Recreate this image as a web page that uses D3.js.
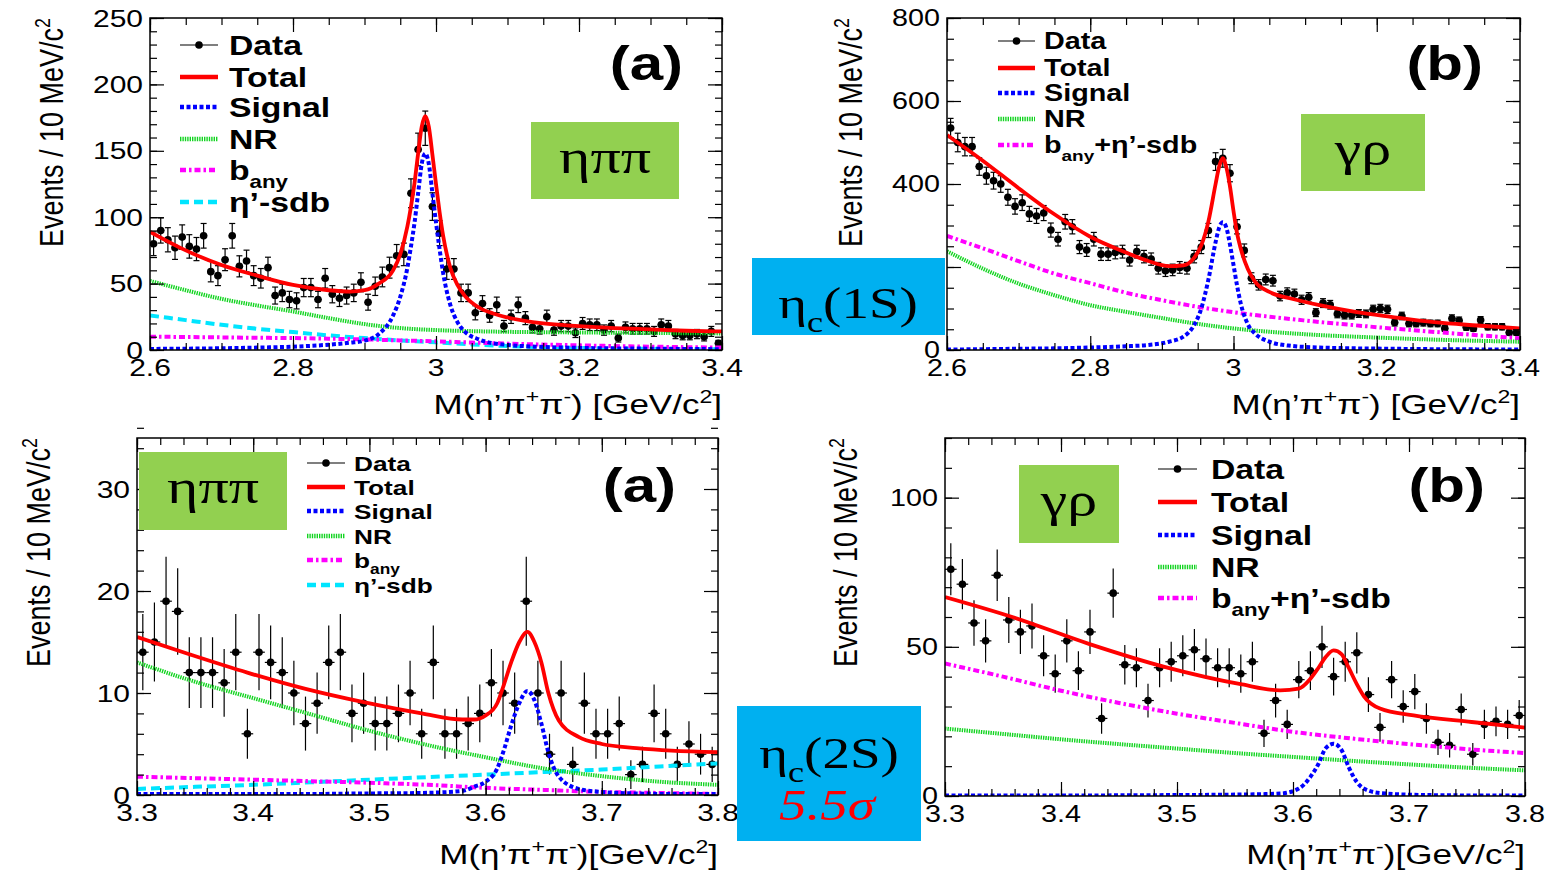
<!DOCTYPE html>
<html>
<head>
<meta charset="utf-8">
<script src="https://cdn.jsdelivr.net/npm/d3@7"></script>
<style>
  body { margin: 0; background: #fff; }
  svg { display: block; }
</style>
</head>
<body>
<svg id="fig" width="1549" height="872"></svg>
<script>
// ---------------- data ----------------

// (top-left) eta_c(1S), eta pi pi : counts per 10 MeV bin, 2.6 - 3.4
const tlCounts = [80, 90, 83, 77, 85, 78, 76, 86, 59, 56,
                  68, 86, 63, 67, 56, 54, 62, 41, 43, 38,
                  37, 47, 47, 38, 54, 42, 39, 41, 43, 51,
                  36, 48, 55, 62, 71, 72, 118, 151, 167, 108,
                  88, 61, 61, 43, 43, 28, 35, 26, 34, 18,
                  25, 34, 24, 17, 16, 25, 15, 18, 18, 13,
                  20, 19, 19, 15, 18, 9, 17, 16, 16, 16,
                  14, 19, 18, 12, 11, 11, 12, 10, 14, 5];
const tlFitX   = [2.60, 2.65, 2.70, 2.75, 2.80, 2.85, 2.88, 2.90, 2.92, 2.94, 2.95, 2.96, 2.965, 2.97, 2.975, 2.98, 2.985,
                  2.99, 2.995, 3.00, 3.005, 3.01, 3.02, 3.03, 3.04, 3.06, 3.08, 3.10, 3.15, 3.20, 3.25, 3.30, 3.35, 3.40];
const tlTotal  = [89, 75, 64, 56, 49, 45, 44, 45, 50, 60, 72, 93, 108, 126, 148, 168, 176,
                  168, 147, 125, 104, 86, 62, 49, 41, 32, 27.5, 24.5, 20, 18, 16.5, 15.5, 14.5, 14];
const tlSignal = [0.8, 1.0, 1.3, 1.8, 2.5, 4, 5.5, 7, 12, 26, 40, 62, 78, 96, 118, 140, 148,
                  140, 118, 96, 76, 58, 34, 21, 14, 8, 5, 3.8, 2.3, 1.6, 1.2, 1, 0.8, 0.6];
const tlBgX    = [2.60, 2.65, 2.70, 2.75, 2.80, 2.85, 2.90, 2.95, 3.00, 3.05, 3.10, 3.20, 3.30, 3.40];
const tlNR     = [52, 45, 38.5, 33.5, 29, 24, 19.5, 16.5, 15, 14.2, 13.7, 13.2, 12.8, 12.5];
const tlBany   = [10, 9.8, 9.5, 9.2, 9, 8.5, 8, 7.2, 6.5, 5.6, 4.8, 3.5, 2.5, 1.8];
const tlSdb    = [26, 22.5, 19, 16, 13.5, 11, 9, 7.2, 5.8, 4.2, 3, 1.6, 0.9, 0.5];
const tlXTicks = [2.6, 2.8, 3.0, 3.2, 3.4];
const tlYTicks = [0, 50, 100, 150, 200, 250];

// (top-right) eta_c(1S), gamma rho
const trCounts = [535, 500, 490, 490, 442, 420, 408, 400, 368, 346,
                  355, 328, 323, 330, 289, 267, 309, 297, 248, 241,
                  267, 231, 231, 235, 237, 217, 237, 225, 219, 197,
                  191, 193, 199, 197, 225, 248, 288, 454, 462, 426,
                  297, 240, 173, 157, 170, 167, 130, 138, 135, 121,
                  127, 90, 113, 109, 87, 84, 84, 88, 87, 98,
                  100, 98, 66, 82, 64, 64, 66, 64, 64, 52,
                  76, 71, 55, 52, 72, 56, 56, 56, 42, 42];
const trFitX   = [2.60, 2.65, 2.70, 2.75, 2.80, 2.85, 2.88, 2.91, 2.93, 2.945, 2.955, 2.965, 2.975, 2.98, 2.985,
                  2.99, 2.995, 3.00, 3.005, 3.01, 3.02, 3.03, 3.05, 3.08, 3.12, 3.17, 3.22, 3.28, 3.34, 3.40];
const trTotal  = [518, 456, 390, 327, 273, 235, 215, 202, 204, 222, 252, 310, 400, 442, 462,
                  440, 395, 335, 281, 245, 195, 165, 140, 124, 108, 92, 80, 67, 59, 52];
const trSignal = [1, 2, 3, 4, 6, 9, 12, 20, 32, 60, 100, 170, 260, 295, 308,
                  295, 255, 205, 155, 113, 62, 40, 20, 10, 6, 4, 3, 2, 1.5, 1];
const trBgX    = [2.60, 2.65, 2.70, 2.75, 2.80, 2.85, 2.90, 2.95, 3.00, 3.10, 3.20, 3.30, 3.40];
const trNR     = [238, 196, 160, 132, 108, 92, 77, 63, 52, 38, 30, 24, 20];
const trBanySdb = [275, 245, 214, 184, 161, 138, 120, 104, 91, 71, 55, 41, 28];
const trXTicks = [2.6, 2.8, 3.0, 3.2, 3.4];
const trYTicks = [0, 200, 400, 600, 800];

// (bottom-left) eta_c(2S), eta pi pi : 3.3 - 3.8
const blCounts = [14, 15, 19, 18, 12, 12, 12, 11, 14, 6,
                  14, 13, 12, 10, 7, 9, 13, 14, 8, 9,
                  7, 7, 8, 10, 6, 13, 6, 6, 7, 8,
                  11, 10, 9, 19, 10, 4, 10, 3, 9, 6,
                  6, 7, 2, 3, 8, 6, 3, 5, 4, 3];
const blFitX   = [3.30, 3.345, 3.395, 3.445, 3.495, 3.545, 3.58, 3.59, 3.60, 3.61, 3.616, 3.622,
                  3.629, 3.636, 3.642, 3.648, 3.654, 3.663, 3.68, 3.70, 3.73, 3.76, 3.80];
const blTotal  = [15.5, 13.8, 12, 10.4, 9.1, 8.0, 7.4, 7.4, 7.8, 9.0, 10.9, 13.0,
                  15.0, 16.0, 15.0, 13, 10, 7.3, 5.7, 5.0, 4.6, 4.35, 4.2];
const blSignal = [0.1, 0.1, 0.1, 0.1, 0.15, 0.2, 0.4, 0.8, 1.3, 2.6, 4.5, 6.8,
                  9.0, 10.2, 9.3, 7.0, 4.2, 1.8, 0.6, 0.3, 0.15, 0.1, 0.1];
const blBgX    = [3.30, 3.35, 3.40, 3.45, 3.50, 3.55, 3.60, 3.65, 3.70, 3.75, 3.80];
const blNR     = [13.0, 11.1, 9.5, 7.9, 6.3, 4.9, 3.7, 2.6, 1.85, 1.3, 1.0];
const blBany   = [1.8, 1.65, 1.5, 1.35, 1.2, 1.0, 0.7, 0.5, 0.3, 0.2, 0.1];
const blSdb    = [0.6, 0.8, 1.0, 1.25, 1.5, 1.75, 2.0, 2.25, 2.5, 2.8, 3.1];
const blXTicks = [3.3, 3.4, 3.5, 3.6, 3.7, 3.8];
const blYTicks = [0, 10, 20, 30];

// (bottom-right) eta_c(2S), gamma rho
const brCounts = [76, 71, 58, 52, 74, 59, 55, 57, 47, 41,
                  52, 42, 55, 26, 68, 44, 43, 32, 43, 45,
                  47, 49, 46, 43, 43, 41, 45, 21, 32, 24,
                  39, 42, 50, 40, 45, 48, 34, 23, 39, 30,
                  35, 26, 18, 17, 29, 14, 24, 25, 24, 27];
const brFitX   = [3.30, 3.358, 3.424, 3.49, 3.556, 3.589, 3.605, 3.615, 3.622, 3.628,
                  3.635, 3.642, 3.648, 3.655, 3.661, 3.675, 3.704, 3.754, 3.80];
const brTotal  = [66.7, 60, 51, 43.2, 37.4, 35.4, 36, 39.3, 43, 46.5,
                  48.8, 47.5, 43, 37.5, 33.5, 29.3, 27, 24.8, 22.9];
const brSignal = [0.2, 0.2, 0.2, 0.3, 0.5, 0.8, 2.5, 6.4, 10.8, 15.9,
                  17.5, 15.3, 9.7, 4.7, 2.5, 1.0, 0.4, 0.2, 0.2];
const brBgX    = [3.30, 3.35, 3.40, 3.45, 3.50, 3.55, 3.60, 3.65, 3.70, 3.75, 3.80];
const brNR     = [22.6, 20.8, 19.0, 17.4, 15.9, 14.4, 13.1, 11.8, 10.6, 9.5, 8.6];
const brBanySdb = [44.4, 40.0, 35.3, 31.2, 27.6, 24.5, 21.5, 19.3, 17.4, 15.7, 14.4];
const brXTicks = [3.3, 3.4, 3.5, 3.6, 3.7, 3.8];
const brYTicks = [0, 50, 100];

// ---------------- drawing ----------------

const SANS = "'Liberation Sans', Arial, Helvetica, sans-serif";
const SERIF = "'Liberation Serif', 'Times New Roman', serif";
const SX = 1.25;   // the whole slide is stretched sideways

const styles = {
  total:  { stroke: "#ff0000", dash: null, width: 3.8 },
  signal: { stroke: "#0000ff", dash: "4,2.5", width: 4 },
  nr:     { stroke: "#12d420", dash: "1.4,1", width: 4 },
  bany:   { stroke: "#ff00ff", dash: "6,3,2.5,3", width: 4 },
  sdb:    { stroke: "#00e5ff", dash: "9,5", width: 4 }
};

const svg = d3.select("#fig");

// text made of pieces, some sub/superscript
function rich(sel, parts, size) {
  let shift = 0;
  parts.forEach(p => {
    const target = p.sub ? 0.32 * size : p.sup ? -0.4 * size : 0;
    const ts = sel.append("tspan").attr("dy", target - shift).text(p.t);
    if (p.sub || p.sup) ts.attr("font-size", 0.66 * size);
    shift = target;
  });
  return sel;
}

function label(sel, x, y, parts, o) {
  const t = sel.append("text")
    .attr("transform", o.rotate
      ? `translate(${x},${y}) rotate(-90) scale(1,${SX})`
      : `translate(${x},${y}) scale(${SX},1)`)
    .attr("text-anchor", o.anchor || "start")
    .attr("font-family", o.family || SANS)
    .attr("font-size", o.size)
    .attr("font-weight", o.weight || "normal")
    .attr("font-style", o.italic ? "italic" : "normal")
    .attr("fill", o.fill || "#000");
  if (typeof parts === "string") t.text(parts);
  else rich(t, parts, o.size);
  return t;
}

const xTitle = [{ t: "M(η’π" }, { t: "+", sup: true }, { t: "π" }, { t: "-", sup: true }, { t: ")\u00a0[GeV/c" }, { t: "2", sup: true }, { t: "]" }];
const xTitleTight = [{ t: "M(η’π" }, { t: "+", sup: true }, { t: "π" }, { t: "-", sup: true }, { t: ")[GeV/c" }, { t: "2", sup: true }, { t: "]" }];
const yTitle = [{ t: "Events / 10 MeV/c" }, { t: "2", sup: true }];

function drawPanel(p) {
  const x = d3.scaleLinear().domain(p.xDomain).range([p.left, p.right]);
  const y = d3.scaleLinear().domain(p.yDomain).range([p.bottom, p.top]);
  const g = svg.append("g");

  g.append("clipPath").attr("id", "clip-" + p.id).append("rect")
    .attr("x", p.left).attr("y", p.top)
    .attr("width", p.right - p.left).attr("height", p.bottom - p.top);
  const plot = g.append("g").attr("clip-path", `url(#clip-${p.id})`);

  // data points with errors
  const pts = p.counts.map((c, i) => ({ x: p.xDomain[0] + p.bin * (i + 0.5), y: c, e: Math.sqrt(c) }));
  const dg = plot.append("g").attr("stroke", "#000").attr("stroke-width", 1.2);
  dg.selectAll(".ev").data(pts).join("line")
    .attr("x1", d => x(d.x)).attr("x2", d => x(d.x))
    .attr("y1", d => y(d.y - d.e)).attr("y2", d => y(d.y + d.e));
  dg.selectAll(".eh").data(pts).join("line")
    .attr("x1", d => x(d.x - p.bin / 2)).attr("x2", d => x(d.x + p.bin / 2))
    .attr("y1", d => y(d.y)).attr("y2", d => y(d.y));
  if (p.caps) {
    pts.forEach(d => {
      [d.y - d.e, d.y + d.e].forEach(v => {
        dg.append("line").attr("x1", x(d.x) - 3).attr("x2", x(d.x) + 3)
          .attr("y1", y(v)).attr("y2", y(v));
      });
    });
  }
  plot.append("g").selectAll("circle").data(pts).join("circle")
    .attr("cx", d => x(d.x)).attr("cy", d => y(d.y)).attr("r", 3.8).attr("fill", "#000");

  // fit curves
  const line = d3.line().x(d => x(d[0])).y(d => y(d[1])).curve(d3.curveMonotoneX);
  p.curves.forEach(c => {
    const s = styles[c.key];
    plot.append("path")
      .datum(c.xs.map((v, i) => [v, c.ys[i]]))
      .attr("d", line)
      .attr("fill", "none")
      .attr("stroke", s.stroke)
      .attr("stroke-width", s.width)
      .attr("stroke-dasharray", s.dash);
  });

  // frame with inward ticks on all four sides
  const minorX = d3.range(0, Math.round((p.xDomain[1] - p.xDomain[0]) / p.xMinor) + 1).map(i => p.xDomain[0] + i * p.xMinor);
  const minorY = d3.range(0, Math.round((p.yDomain[1] - p.yDomain[0]) / p.yMinor) + 1).map(i => p.yDomain[0] + i * p.yMinor);
  const axes = [
    [d3.axisBottom(x), p.bottom, "x", p.xTicks, minorX],
    [d3.axisTop(x), p.top, "x", p.xTicks, minorX],
    [d3.axisLeft(y), p.left, "y", p.yTicks, minorY],
    [d3.axisRight(y), p.right, "y", p.yTicks, minorY]
  ];
  axes.forEach(([ax, pos, dir, major, minor]) => {
    [[minor, 7], [major, 14]].forEach(([vals, len]) => {
      const a = g.append("g")
        .attr("transform", dir === "x" ? `translate(0,${pos})` : `translate(${pos},0)`)
        .call(ax.tickValues(vals).tickSize(-len).tickSizeOuter(0).tickFormat(""));
      a.select(".domain").remove();
      a.selectAll("line").attr("stroke", "#000").attr("stroke-width", 1.2);
    });
  });
  g.append("rect")
    .attr("x", p.left).attr("y", p.top)
    .attr("width", p.right - p.left).attr("height", p.bottom - p.top)
    .attr("fill", "none").attr("stroke", "#000").attr("stroke-width", 1.5);

  // tick labels
  p.xTicks.forEach(v => label(g, x(v), p.bottom + 26, String(v), { size: p.tickSize, anchor: "middle" }));
  p.yTicks.forEach(v => label(g, p.left - 7, y(v) + 0.36 * p.tickSize, String(v), { size: p.tickSize, anchor: "end" }));

  // axis titles
  label(g, p.right, p.xTitleY, p.xTitle, { size: 28, anchor: "end" });
  label(g, p.yTitleX, p.top, yTitle, { size: 27, anchor: "end", rotate: true });

  // panel letter
  label(g, p.letterX, p.letterY, p.letter, { size: 48, weight: "bold", anchor: "end" });

  // channel box
  g.append("rect").attr("x", p.box[0]).attr("y", p.box[1])
    .attr("width", p.box[2]).attr("height", p.box[3]).attr("fill", "#92d050");
  label(g, p.box[0] + p.box[2] / 2, p.box[1] + p.box[3] * 0.66, p.channel,
    { size: 48, family: SERIF, anchor: "middle" });

  // legend
  const L = p.legend;
  L.rows.forEach(r => {
    const yy = r.y;
    if (r.key === "data") {
      g.append("line").attr("x1", L.x0).attr("x2", L.x1).attr("y1", yy).attr("y2", yy)
        .attr("stroke", "#000").attr("stroke-width", 1.2);
      g.append("circle").attr("cx", (L.x0 + L.x1) / 2).attr("cy", yy).attr("r", 3.8).attr("fill", "#000");
    } else {
      const s = styles[r.key];
      g.append("line").attr("x1", L.x0).attr("x2", L.x1).attr("y1", yy).attr("y2", yy)
        .attr("stroke", s.stroke).attr("stroke-width", 4.5)
        .attr("stroke-dasharray", s.dash);
    }
    label(g, L.tx, yy + 0.36 * L.size, r.parts, { size: L.size, weight: "bold" });
  });
}

const legendFull = () => [
  { key: "data", parts: "Data" },
  { key: "total", parts: "Total" },
  { key: "signal", parts: "Signal" },
  { key: "nr", parts: "NR" },
  { key: "bany", parts: [{ t: "b" }, { t: "any", sub: true }] },
  { key: "sdb", parts: "η’-sdb" }
];
const legendShort = () => [
  { key: "data", parts: "Data" },
  { key: "total", parts: "Total" },
  { key: "signal", parts: "Signal" },
  { key: "nr", parts: "NR" },
  { key: "bany", parts: [{ t: "b" }, { t: "any", sub: true }, { t: "+η’-sdb" }] }
];
const withY = (rows, ys) => rows.map((r, i) => Object.assign({}, r, { y: ys[i] }));

drawPanel({
  id: "tl", left: 150, right: 722, top: 18, bottom: 350,
  xDomain: [2.6, 3.4], yDomain: [0, 250], bin: 0.01, caps: true,
  xTicks: tlXTicks, yTicks: tlYTicks, xMinor: 0.05, yMinor: 10, tickSize: 24,
  counts: tlCounts,
  curves: [
    { key: "sdb", xs: tlBgX, ys: tlSdb },
    { key: "bany", xs: tlBgX, ys: tlBany },
    { key: "nr", xs: tlBgX, ys: tlNR },
    { key: "signal", xs: tlFitX, ys: tlSignal },
    { key: "total", xs: tlFitX, ys: tlTotal }
  ],
  xTitle: xTitle, xTitleY: 414, yTitleX: 63,
  letter: "(a)", letterX: 683, letterY: 80,
  box: [531, 122, 148, 77], channel: "ηππ",
  legend: { x0: 180, x1: 218, tx: 229, size: 27, rows: withY(legendFull(), [45, 77, 107, 139, 170, 202]) }
});

drawPanel({
  id: "tr", left: 947, right: 1520, top: 18, bottom: 350,
  xDomain: [2.6, 3.4], yDomain: [0, 800], bin: 0.01, caps: true,
  xTicks: trXTicks, yTicks: trYTicks, xMinor: 0.05, yMinor: 50, tickSize: 23,
  counts: trCounts,
  curves: [
    { key: "bany", xs: trBgX, ys: trBanySdb },
    { key: "nr", xs: trBgX, ys: trNR },
    { key: "signal", xs: trFitX, ys: trSignal },
    { key: "total", xs: trFitX, ys: trTotal }
  ],
  xTitle: xTitle, xTitleY: 414, yTitleX: 862,
  letter: "(b)", letterX: 1483, letterY: 80,
  box: [1301, 114, 124, 77], channel: "γρ",
  legend: { x0: 998, x1: 1035, tx: 1044, size: 23, rows: withY(legendShort(), [41, 68, 93, 119, 145]) }
});

drawPanel({
  id: "bl", left: 137, right: 718, top: 438, bottom: 795,
  xDomain: [3.3, 3.8], yDomain: [0, 35], bin: 0.01, caps: false,
  xTicks: blXTicks, yTicks: blYTicks, xMinor: 0.02, yMinor: 2, tickSize: 24,
  counts: blCounts,
  curves: [
    { key: "sdb", xs: blBgX, ys: blSdb },
    { key: "bany", xs: blBgX, ys: blBany },
    { key: "nr", xs: blBgX, ys: blNR },
    { key: "signal", xs: blFitX, ys: blSignal },
    { key: "total", xs: blFitX, ys: blTotal }
  ],
  xTitle: xTitleTight, xTitleY: 864, yTitleX: 50,
  letter: "(a)", letterX: 676, letterY: 502,
  box: [139, 452, 148, 78], channel: "ηππ",
  legend: { x0: 307, x1: 345, tx: 354, size: 21, rows: withY(legendFull(), [463, 487, 511, 536, 560, 585]) }
});

drawPanel({
  id: "br", left: 945, right: 1525, top: 438, bottom: 796,
  xDomain: [3.3, 3.8], yDomain: [0, 120], bin: 0.01, caps: false,
  xTicks: brXTicks, yTicks: brYTicks, xMinor: 0.02, yMinor: 10, tickSize: 23,
  counts: brCounts,
  curves: [
    { key: "bany", xs: brBgX, ys: brBanySdb },
    { key: "nr", xs: brBgX, ys: brNR },
    { key: "signal", xs: brFitX, ys: brSignal },
    { key: "total", xs: brFitX, ys: brTotal }
  ],
  xTitle: xTitleTight, xTitleY: 864, yTitleX: 857,
  letter: "(b)", letterX: 1485, letterY: 502,
  box: [1019, 465, 100, 78], channel: "γρ",
  legend: { x0: 1158, x1: 1197, tx: 1211, size: 27, rows: withY(legendShort(), [469, 502, 535, 567, 598]) }
});

// resonance boxes laid over the middle
svg.append("rect").attr("x", 752).attr("y", 258).attr("width", 193).attr("height", 77).attr("fill", "#00b0f0");
label(svg, 848, 318, [{ t: "η" }, { t: "c", sub: true }, { t: "(1S)" }], { size: 44, family: SERIF, anchor: "middle" });
svg.append("rect").attr("x", 737).attr("y", 706).attr("width", 184).attr("height", 135).attr("fill", "#00b0f0");
label(svg, 829, 768, [{ t: "η" }, { t: "c", sub: true }, { t: "(2S)" }], { size: 44, family: SERIF, anchor: "middle" });
label(svg, 827, 820, "5.5σ", { size: 44, family: SERIF, anchor: "middle", italic: true, fill: "#ff0000" });
</script>
</body>
</html>
